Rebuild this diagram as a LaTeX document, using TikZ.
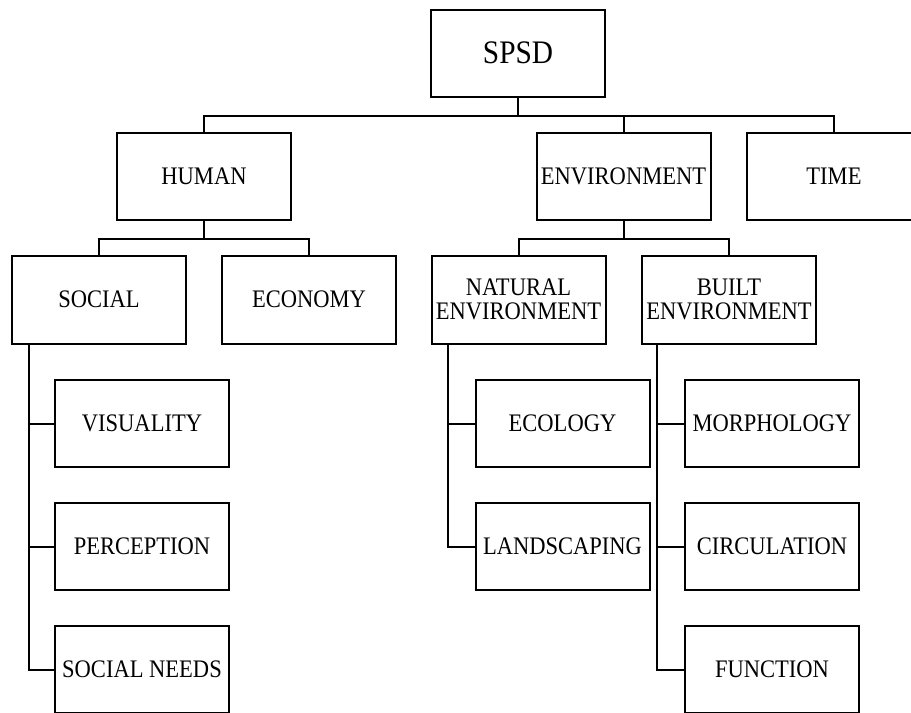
\documentclass[tikz,border=0pt]{standalone}
\usepackage{fontspec}
\setmainfont{Liberation Serif}
\usepackage{graphicx}
\usetikzlibrary{calc}
% box label: slightly tall lettering, centred lines, set a little low in the box
\newcommand{\boxlbl}[1]{\raisebox{-2.2pt}[\height][\depth]{\scalebox{1}[1.12]{\begin{tabular}{@{}c@{}}#1\end{tabular}}}}
\begin{document}
\begin{tikzpicture}[x=0.75pt,y=-0.75pt,
  box/.style={draw,line width=1.5pt,minimum width=130.5pt,minimum height=65.25pt,
    inner sep=0pt,font=\fontsize{16.9}{16}\selectfont},
  rootbox/.style={box,font=\fontsize{22}{22}\selectfont},
  link/.style={line width=1.5pt}]
\clip (0,0) rectangle (911,713);
% root
\node[rootbox] (spsd) at (518,54) {\boxlbl{SPSD}};
% first level
\node[box] (human) at (204,176.5) {\boxlbl{HUMAN}};
\node[box] (env) at (623.5,176.5) {\boxlbl{ENVIRONMENT}};
\node[box] (time) at (834,176.5) {\boxlbl{TIME}};
% second level
\node[box] (social) at (99,300) {\boxlbl{SOCIAL}};
\node[box] (economy) at (309,300) {\boxlbl{ECONOMY}};
\node[box] (natural) at (518.5,300) {\boxlbl{NATURAL\\ENVIRONMENT}};
\node[box] (built) at (729,300) {\boxlbl{BUILT\\ENVIRONMENT}};
% third level
\node[box] (visuality) at (142,423.5) {\boxlbl{VISUALITY}};
\node[box] (perception) at (142,546.5) {\boxlbl{PERCEPTION}};
\node[box] (needs) at (142,669.5) {\boxlbl{SOCIAL NEEDS}};
\node[box] (ecology) at (562.5,423.5) {\boxlbl{ECOLOGY}};
\node[box] (landscaping) at (562.5,546.5) {\boxlbl{LANDSCAPING}};
\node[box] (morphology) at (772,423.5) {\boxlbl{MORPHOLOGY}};
\node[box] (circulation) at (772,546.5) {\boxlbl{CIRCULATION}};
\node[box] (function) at (772,669.5) {\boxlbl{FUNCTION}};
% buses from parents
\draw[link] (spsd.south) -- ++(0,18) coordinate (bus0);
\draw[link] (bus0) -| (human.north);
\draw[link] (bus0) -| (env.north);
\draw[link] (bus0) -| (time.north);
\draw[link] (human.south) -- ++(0,18) coordinate (bus1);
\draw[link] (bus1) -| (social.north);
\draw[link] (bus1) -| (economy.north);
\draw[link] (env.south) -- ++(0,18) coordinate (bus2);
\draw[link] (bus2) -| (natural.north);
\draw[link] (bus2) -| (built.north);
% trunks down the left side
\coordinate (t1) at ($(social.south west)+(18,0)$);
\draw[link] (t1) |- (visuality.west);
\draw[link] (t1) |- (perception.west);
\draw[link] (t1) |- (needs.west);
\coordinate (t2) at ($(natural.south west)+(17,0)$);
\draw[link] (t2) |- (ecology.west);
\draw[link] (t2) |- (landscaping.west);
\coordinate (t3) at ($(built.south west)+(16,0)$);
\draw[link] (t3) |- (morphology.west);
\draw[link] (t3) |- (circulation.west);
\draw[link] (t3) |- (function.west);
\end{tikzpicture}
\end{document}
